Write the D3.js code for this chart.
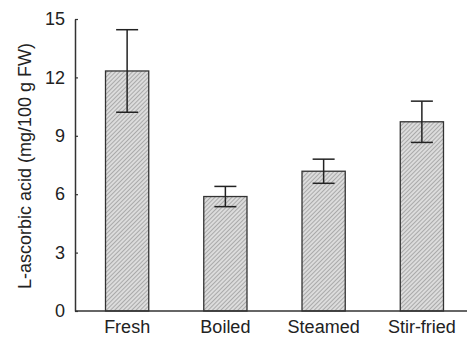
<!DOCTYPE html>
<html>
<head>
<meta charset="utf-8">
<script src="https://cdn.jsdelivr.net/npm/d3@7/dist/d3.min.js"></script>
<style>
  html, body { margin: 0; padding: 0; background: #fff; }
  svg { display: block; }
  text { font-family: "Liberation Sans", Arial, sans-serif; fill: #222; }
</style>
</head>
<body>
<svg id="chart" width="467" height="338"></svg>
<script>
// L-ascorbic acid content by cooking method (mean ± SD)
const categories = ["Fresh", "Boiled", "Steamed", "Stir-fried"];
const means = [12.33, 5.88, 7.18, 9.72];
const errors = [2.12, 0.52, 0.62, 1.06];
const yTicks = [0, 3, 6, 9, 12, 15];
const yLabel = "L-ascorbic acid (mg/100 g FW)";

const W = 467, H = 338;
const margin = { top: 19, right: -4, bottom: 27, left: 75 };
const svg = d3.select("#chart");

const x = d3.scaleBand()
  .domain(categories)
  .range([margin.left + 3, W - margin.right])
  .paddingInner(0.56)
  .paddingOuter(0.28);

const y = d3.scaleLinear()
  .domain([0, 15])
  .range([H - margin.bottom, margin.top]);

// Diagonal hatch fill for the bars
const defs = svg.append("defs");
const pat = defs.append("pattern")
  .attr("id", "hatch")
  .attr("patternUnits", "userSpaceOnUse")
  .attr("width", 3).attr("height", 3)
  .attr("patternTransform", "rotate(45)");
pat.append("rect").attr("width", 3).attr("height", 3).attr("fill", "#dcdcdc");
pat.append("line")
  .attr("x1", 0).attr("y1", 0).attr("x2", 0).attr("y2", 3)
  .attr("stroke", "#808080").attr("stroke-width", 1.1);

// Bars
svg.append("g").selectAll("rect")
  .data(categories)
  .join("rect")
  .attr("x", d => x(d))
  .attr("y", (d, i) => y(means[i]))
  .attr("width", x.bandwidth())
  .attr("height", (d, i) => y(0) - y(means[i]))
  .attr("fill", "url(#hatch)")
  .attr("stroke", "#333")
  .attr("stroke-width", 1.3);

// Error bars
const capHalf = 11;
const eg = svg.append("g").attr("stroke", "#222").attr("stroke-width", 1.5);
categories.forEach((c, i) => {
  const cx = x(c) + x.bandwidth() / 2;
  const hi = y(means[i] + errors[i]);
  const lo = y(means[i] - errors[i]);
  eg.append("line").attr("x1", cx).attr("x2", cx).attr("y1", hi).attr("y2", lo);
  eg.append("line").attr("x1", cx - capHalf).attr("x2", cx + capHalf).attr("y1", hi).attr("y2", hi);
  eg.append("line").attr("x1", cx - capHalf).attr("x2", cx + capHalf).attr("y1", lo).attr("y2", lo);
});

// Y axis: inward ticks
const yAxis = d3.axisLeft(y).tickValues(yTicks).tickSizeInner(-3).tickSizeOuter(0).tickPadding(10);
const gy = svg.append("g")
  .attr("transform", `translate(${margin.left},0)`)
  .call(yAxis);
gy.select(".domain").attr("stroke", "#333").attr("stroke-width", 1.5);
gy.selectAll(".tick line").attr("stroke", "#333").attr("stroke-width", 1.2);
gy.selectAll(".tick text").attr("font-size", 18).attr("fill", "#222")
  .style("font-family", "'Liberation Sans', Arial, sans-serif");

// X axis baseline
const xAxis = d3.axisBottom(x).tickSize(0).tickPadding(9);
const gx = svg.append("g")
  .attr("transform", `translate(0,${y(0)})`)
  .call(xAxis);
gx.select(".domain").attr("stroke", "#333").attr("stroke-width", 1.5)
  .attr("d", `M${margin.left},0H${W}`);
gx.selectAll(".tick text").attr("font-size", 18).attr("fill", "#222")
  .style("font-family", "'Liberation Sans', Arial, sans-serif");

// Y axis title
svg.append("text")
  .attr("transform", `translate(31,${(y(0) + y(15)) / 2 + 1}) rotate(-90)`)
  .attr("text-anchor", "middle")
  .attr("font-size", 18)
  .text(yLabel);
</script>
</body>
</html>
